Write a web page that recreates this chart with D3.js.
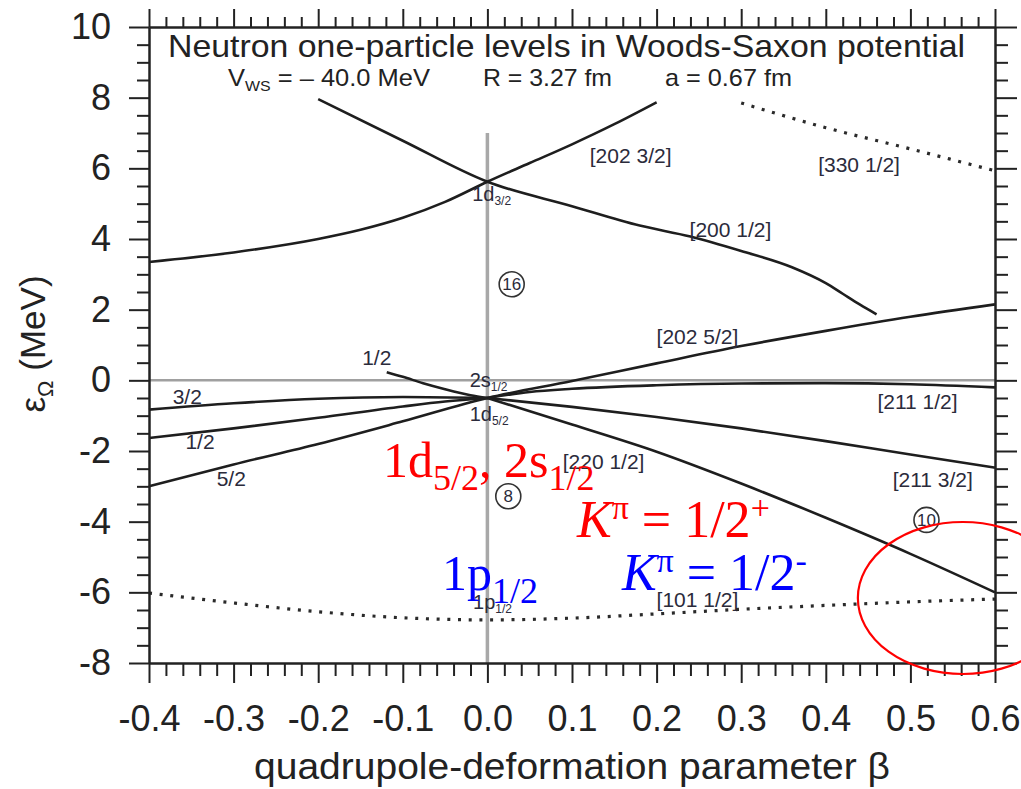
<!DOCTYPE html>
<html>
<head>
<meta charset="utf-8">
<script src="https://cdn.jsdelivr.net/npm/d3@7"></script>
<style>
  body { margin: 0; background: #fff; }
  svg { display: block; }
</style>
</head>
<body>
<svg id="chart" width="1021" height="789"></svg>
<script>
// Neutron one-particle levels (Woods-Saxon), points are [beta, energy / MeV]
const level202_32 = [[-0.4,3.35],[-0.3,3.62],[-0.2,4.0],[-0.15,4.26],[-0.1,4.6],[-0.05,5.05],[0,5.62],[0.05,6.15],[0.1,6.68],[0.15,7.25],[0.2,7.87]];
const level200_12 = [[-0.2,7.96],[-0.1,6.78],[0,5.62],[0.1,4.93],[0.18,4.38],[0.24,4.07],[0.3,3.66],[0.36,3.2],[0.4,2.75],[0.42,2.45],[0.44,2.15],[0.46,1.87]];
const level202_52 = [[-0.4,-3.0],[-0.3,-2.38],[-0.2,-1.8],[-0.1,-1.16],[0,-0.5],[0.1,-0.02],[0.2,0.48],[0.3,0.97],[0.4,1.4],[0.5,1.8],[0.6,2.15]];
const oblate32   = [[-0.4,-0.83],[-0.3,-0.65],[-0.2,-0.52],[-0.1,-0.47],[0,-0.5]];
const oblate12lo = [[-0.4,-1.63],[-0.3,-1.36],[-0.2,-1.06],[-0.1,-0.74],[-0.05,-0.6],[0,-0.5]];
const oblate12hi = [[-0.119,0.23],[-0.1,0.1],[-0.076,-0.08],[-0.05,-0.25],[-0.02,-0.42],[0,-0.5]];
const level211_12 = [[0,-0.5],[0.05,-0.33],[0.1,-0.24],[0.2,-0.14],[0.3,-0.09],[0.4,-0.08],[0.5,-0.11],[0.6,-0.2]];
const level211_32 = [[0,-0.5],[0.1,-0.75],[0.2,-1.04],[0.3,-1.36],[0.4,-1.72],[0.5,-2.1],[0.6,-2.47]];
const level220_12 = [[0,-0.5],[0.1,-1.25],[0.2,-2.02],[0.3,-2.92],[0.4,-3.89],[0.5,-4.91],[0.6,-6.0]];
// negative-parity levels (dotted)
const level101_12 = [[-0.4,-6.02],[-0.3,-6.3],[-0.2,-6.55],[-0.1,-6.72],[0,-6.78],[0.1,-6.73],[0.2,-6.61],[0.3,-6.48],[0.4,-6.37],[0.5,-6.27],[0.6,-6.19]];
const level330_12 = [[0.3,7.85],[0.4,7.15],[0.5,6.55],[0.6,5.93]];

const solidLevels  = [level202_32, level200_12, level202_52, oblate32, oblate12lo, oblate12hi, level211_12, level211_32, level220_12];
const dottedLevels = [level101_12, level330_12];

// axis ticks
const xTicks = [-0.4,-0.3,-0.2,-0.1,0,0.1,0.2,0.3,0.4,0.5,0.6];
const xTickLabels = ["-0.4","-0.3","-0.2","-0.1","0.0","0.1","0.2","0.3","0.4","0.5","0.6"];
const yTicks = [-8,-6,-4,-2,0,2,4,6,8,10];
const yTickLabels = ["-8","-6","-4","-2","0","2","4","6","8","10"];

// level labels: [beta, energy, main text, subscript]
const levelLabels = [
  [0.121, 6.15, "[202 3/2]", ""],
  [0.391, 5.89, "[330 1/2]", ""],
  [0.239, 4.05, "[200 1/2]", ""],
  [0.200, 1.02, "[202 5/2]", ""],
  [0.461, -0.80, "[211 1/2]", ""],
  [0.479, -3.01, "[211 3/2]", ""],
  [0.089, -2.50, "[220 1/2]", ""],
  [0.200, -6.41, "[101 1/2]", ""],
  [-0.148, 0.42, "1/2", ""],
  [-0.372, -0.66, "3/2", ""],
  [-0.357, -1.93, "1/2", ""],
  [-0.320, -2.98, "5/2", ""],
  [-0.018, 5.07, "1d", "3/2"],
  [-0.021, -0.18, "2s", "1/2"],
  [-0.021, -1.14, "1d", "5/2"],
  [-0.017, -6.47, "1p", "1/2"]
];
// shell closures (circled particle numbers): [beta, energy, number]
const magicNumbers = [[0.0287, 2.72, "16"], [0.0247, -3.28, "8"], [0.519, -3.95, "10"]];

const svg = d3.select("#chart");
const x = d3.scaleLinear().domain([-0.4, 0.6]).range([149, 995]);
const y = d3.scaleLinear().domain([-8, 10]).range([663, 27]);

const sans = "'Liberation Sans', Arial, Helvetica, sans-serif";
const serif = "'Liberation Serif', 'Times New Roman', serif";
const ink = "#222";

// reference lines at epsilon = 0 and beta = 0
svg.append("line").attr("x1", x(-0.4)).attr("x2", x(0.6)).attr("y1", y(0)).attr("y2", y(0))
  .attr("stroke", "#a0a0a0").attr("stroke-width", 2.5);
svg.append("line").attr("x1", x(0)).attr("x2", x(0)).attr("y1", y(7)).attr("y2", y(-8))
  .attr("stroke", "#a8a8a8").attr("stroke-width", 3.5);

const line = d3.line().x(d => x(d[0])).y(d => y(d[1])).curve(d3.curveMonotoneX);

svg.append("g").selectAll("path").data(solidLevels).join("path")
  .attr("d", line).attr("fill", "none").attr("stroke", "#1e1e1e").attr("stroke-width", 2.6);

svg.append("g").selectAll("path").data(dottedLevels).join("path")
  .attr("d", line).attr("fill", "none").attr("stroke", "#2a2a2a").attr("stroke-width", 3.2)
  .attr("stroke-dasharray", "3 7.7");

// axes: major ticks with labels, minor ticks without
function styleAxis(g) {
  g.select(".domain").attr("stroke", ink).attr("stroke-width", 2);
  g.selectAll(".tick line").attr("stroke", ink).attr("stroke-width", 2);
  g.selectAll("text").attr("fill", ink).attr("font-family", sans);
}
const xMinor = d3.range(-20, 31).map(i => i / 50).filter(v => Math.abs(v * 10 - Math.round(v * 10)) > 1e-6);
const yMinor = d3.range(-16, 21).map(i => i / 2).filter(v => v % 2 !== 0);

const gxb = svg.append("g").attr("transform", `translate(0,${y(-8)})`);
gxb.append("g").call(d3.axisBottom(x).tickValues(xMinor).tickSize(13).tickFormat("").tickSizeOuter(0)).call(styleAxis);
gxb.append("g").call(d3.axisBottom(x).tickValues(xTicks).tickSize(20).tickPadding(22).tickSizeOuter(0)
  .tickFormat((d, i) => xTickLabels[i])).call(styleAxis)
  .selectAll("text").attr("font-size", 36);

const gxt = svg.append("g").attr("transform", `translate(0,${y(10)})`);
gxt.append("g").call(d3.axisTop(x).tickValues(xMinor).tickSize(10).tickFormat("").tickSizeOuter(0)).call(styleAxis);
gxt.append("g").call(d3.axisTop(x).tickValues(xTicks).tickSize(18).tickFormat("").tickSizeOuter(0)).call(styleAxis);

const gyl = svg.append("g").attr("transform", `translate(${x(-0.4)},0)`);
gyl.append("g").call(d3.axisLeft(y).tickValues(yMinor).tickSize(12).tickFormat("").tickSizeOuter(0)).call(styleAxis);
gyl.append("g").call(d3.axisLeft(y).tickValues(yTicks).tickSize(20).tickPadding(18).tickSizeOuter(0)
  .tickFormat((d, i) => yTickLabels[i])).call(styleAxis)
  .selectAll("text").attr("font-size", 36);

const gyr = svg.append("g").attr("transform", `translate(${x(0.6)},0)`);
gyr.append("g").call(d3.axisRight(y).tickValues(yMinor).tickSize(13).tickFormat("").tickSizeOuter(0)).call(styleAxis);
gyr.append("g").call(d3.axisRight(y).tickValues(yTicks).tickSize(22).tickFormat("").tickSizeOuter(0)).call(styleAxis);

// axis titles
svg.append("text").attr("x", 572).attr("y", 779).attr("text-anchor", "middle")
  .attr("font-family", sans).attr("font-size", 36).attr("fill", ink)
  .attr("textLength", 636).attr("lengthAdjust", "spacingAndGlyphs")
  .text("quadrupole-deformation parameter β");

const yt = svg.append("text").attr("transform", "translate(45,344) rotate(-90)").attr("text-anchor", "middle")
  .attr("font-family", sans).attr("font-size", 35).attr("fill", ink);
yt.append("tspan").text("ε");
yt.append("tspan").attr("font-size", 22).attr("dy", 8).text("Ω");
yt.append("tspan").attr("dy", -8).text("  (MeV)");

// header inside the frame
svg.append("text").attr("x", 168).attr("y", 57).attr("font-family", sans).attr("font-size", 32).attr("fill", ink)
  .attr("textLength", 797).attr("lengthAdjust", "spacingAndGlyphs")
  .text("Neutron one-particle levels in Woods-Saxon potential");
const par = svg.append("g").attr("font-family", sans).attr("font-size", 24).attr("fill", ink);
const vws = par.append("text").attr("x", 228).attr("y", 86).attr("textLength", 202).attr("lengthAdjust", "spacingAndGlyphs");
vws.append("tspan").text("V");
vws.append("tspan").attr("font-size", 15).attr("dy", 5).text("WS");
vws.append("tspan").attr("dy", -5).text(" = – 40.0 MeV");
par.append("text").attr("x", 483).attr("y", 86).attr("textLength", 129).attr("lengthAdjust", "spacingAndGlyphs").text("R = 3.27 fm");
par.append("text").attr("x", 665).attr("y", 86).attr("textLength", 127).attr("lengthAdjust", "spacingAndGlyphs").text("a = 0.67 fm");

// level labels
const lbl = svg.append("g").attr("font-family", sans).attr("fill", "#2b2b3b");
levelLabels.forEach(([b, e, t, s]) => {
  const tx = lbl.append("text").attr("x", x(b)).attr("y", y(e)).attr("font-size", s ? 20 : 21);
  tx.append("tspan").text(t);
  if (s) tx.append("tspan").attr("font-size", 12).attr("dy", 4).text(s);
});

// circled particle numbers
const mg = svg.append("g").selectAll("g").data(magicNumbers).join("g")
  .attr("transform", d => `translate(${x(d[0])},${y(d[1])})`);
mg.append("circle").attr("r", 12.5).attr("fill", "none").attr("stroke", "#333").attr("stroke-width", 1.6);
mg.append("text").attr("text-anchor", "middle").attr("dy", "0.36em").attr("font-family", sans)
  .attr("font-size", 17).attr("fill", "#2b2b3b").text(d => d[2]);

// annotations
const red = "#ff0000", blue = "#0000ff";
const t1 = svg.append("text").attr("x", x(-0.1235)).attr("y", y(-2.73)).attr("font-family", serif).attr("font-size", 50).attr("fill", red);
t1.append("tspan").text("1d");
t1.append("tspan").attr("font-size", 36).attr("dy", 13).text("5/2");
t1.append("tspan").attr("dy", -13).text(", 2s");
t1.append("tspan").attr("font-size", 36).attr("dy", 13).text("1/2");

function kpi(g, b, e, sign, color) {
  const t = g.append("text").attr("x", x(b)).attr("y", y(e)).attr("font-family", serif).attr("font-size", 52).attr("fill", color);
  t.append("tspan").attr("font-style", "italic").text("K");
  t.append("tspan").attr("font-size", 34).attr("dy", -18).text("π");
  t.append("tspan").attr("dy", 18).text(" = 1/2");
  t.append("tspan").attr("font-size", 34).attr("dy", -18).text(sign);
}
kpi(svg, 0.1059, -4.43, "+", red);

const t2 = svg.append("text").attr("x", x(-0.0537)).attr("y", y(-5.93)).attr("font-family", serif).attr("font-size", 50).attr("fill", blue);
t2.append("tspan").text("1p");
t2.append("tspan").attr("font-size", 36).attr("dy", 13).text("1/2");
kpi(svg, 0.159, -5.93, "-", blue);

// highlighted region
svg.append("ellipse").attr("cx", x(0.562)).attr("cy", y(-6.16)).attr("rx", 105).attr("ry", 76)
  .attr("fill", "none").attr("stroke", red).attr("stroke-width", 2.2);
</script>
</body>
</html>
